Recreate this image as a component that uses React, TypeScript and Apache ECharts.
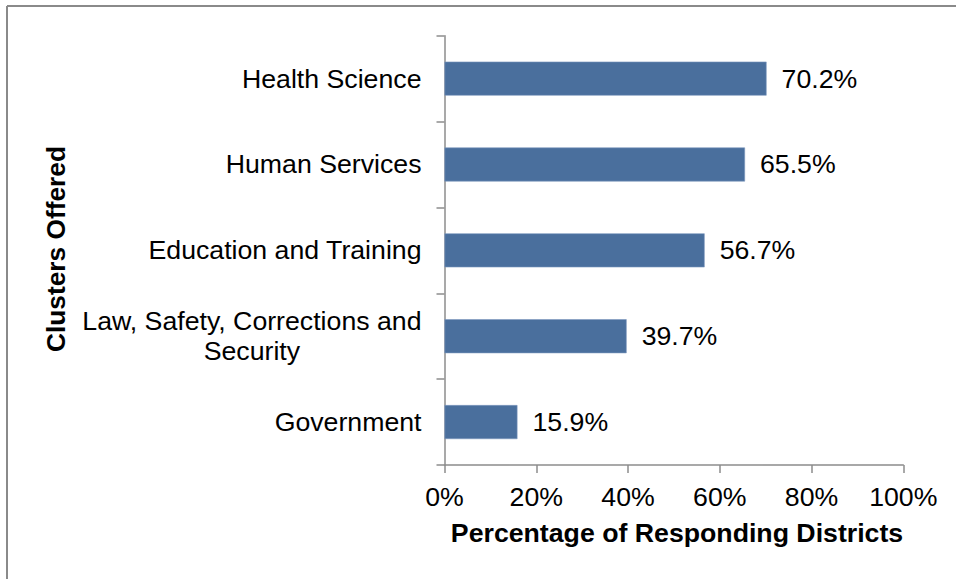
import React, { useEffect, useRef } from "react";
import * as echarts from "echarts";

const categories = [
  "Health Science",
  "Human Services",
  "Education and Training",
  "Law, Safety, Corrections and Security",
  "Government",
];
const values = [70.2, 65.5, 56.7, 39.7, 15.9];
const xTicks = [0, 20, 40, 60, 80, 100];
const xTitle = "Percentage of Responding Districts";
const yTitle = "Clusters Offered";

const FONT = "'Liberation Sans', Arial, sans-serif";
const FS = 26.7;

export default function App() {
  const ref = useRef<HTMLDivElement>(null);
  useEffect(() => {
    document.body.style.margin = "0";
    const chart = echarts.init(ref.current!, null, { renderer: "svg" });
    chart.setOption({
      animation: false,
      backgroundColor: "#ffffff",
      textStyle: { fontFamily: FONT },
      grid: { left: 444.5, right: 52.7, top: 35.7, bottom: 114, containLabel: false },
      xAxis: {
        type: "value",
        min: xTicks[0],
        max: xTicks[xTicks.length - 1],
        interval: 20,
        splitLine: { show: false },
        axisLine: { show: true, lineStyle: { color: "#8c8c8c", width: 1.5 } },
        axisTick: { show: true, length: 8, lineStyle: { color: "#8c8c8c", width: 1.5 } },
        axisLabel: {
          margin: 18,
          color: "#000",
          fontSize: FS,
          fontFamily: FONT,
          formatter: (v: number) => v + "%",
        },
      },
      yAxis: {
        type: "category",
        inverse: true,
        data: categories,
        axisLine: { show: true, lineStyle: { color: "#8c8c8c", width: 1.5 } },
        axisTick: { show: true, length: 8, lineStyle: { color: "#8c8c8c", width: 1.5 } },
        axisLabel: {
          margin: 23,
          color: "#000",
          fontSize: FS,
          fontFamily: FONT,
          lineHeight: 30,
          formatter: (v: string) =>
            v === "Law, Safety, Corrections and Security"
              ? "{c|Law, Safety, Corrections and}\n{c|Security}"
              : v,
          rich: {
            c: { align: "center", fontSize: FS, fontFamily: FONT, color: "#000", lineHeight: 30 },
          },
        },
      },
      series: [
        {
          type: "bar",
          data: values,
          barWidth: 34,
          itemStyle: { color: "#4a6f9d", borderColor: "#7d99bf", borderWidth: 0.6 },
          label: {
            show: true,
            position: "right",
            distance: 15,
            color: "#000",
            fontSize: FS,
            fontFamily: FONT,
            formatter: (p: any) => p.value.toFixed(1) + "%",
          },
        },
      ],
      graphic: [
        {
          type: "line",
          shape: { x1: 7, y1: 6, x2: 956, y2: 6 },
          style: { stroke: "#8a8a8a", lineWidth: 2 },
        },
        {
          type: "line",
          shape: { x1: 7, y1: 6, x2: 7, y2: 579 },
          style: { stroke: "#8a8a8a", lineWidth: 2 },
        },
        {
          type: "text",
          x: 677,
          y: 533,
          style: {
            text: xTitle,
            fontSize: FS,
            fontWeight: "bold",
            fontFamily: FONT,
            fill: "#000",
            align: "center",
            verticalAlign: "middle",
          },
        },
        {
          type: "text",
          x: 56,
          y: 249,
          rotation: Math.PI / 2,
          style: {
            text: yTitle,
            fontSize: 26.3,
            fontWeight: "bold",
            fontFamily: FONT,
            fill: "#000",
            align: "center",
            verticalAlign: "middle",
          },
        },
      ],
    });
    return () => chart.dispose();
  }, []);
  return (
    <div
      ref={ref}
      style={{ position: "fixed", left: 0, top: 0, width: 956, height: 579 }}
    />
  );
}
